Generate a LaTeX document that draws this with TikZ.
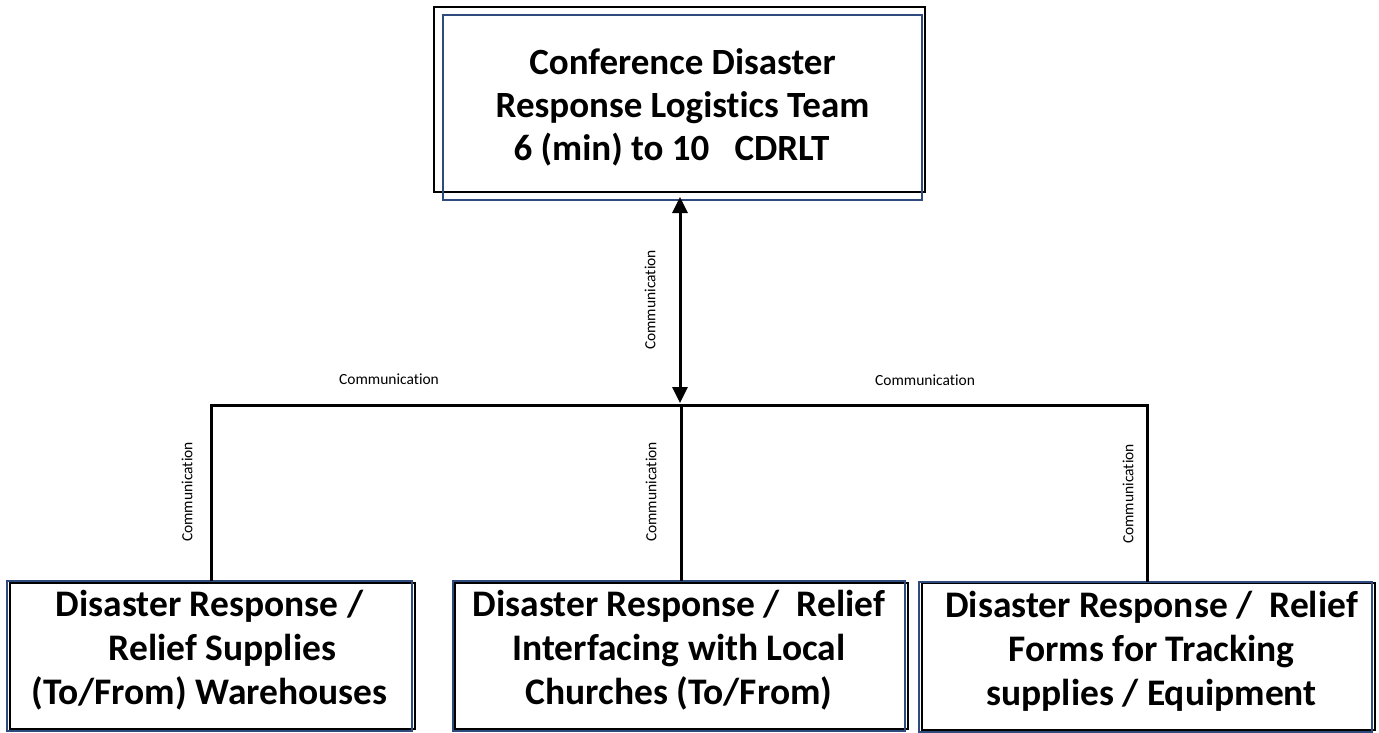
\documentclass[tikz,border=0pt]{standalone}
\usepackage{fontspec}
\setmainfont{Carlito}[Ligatures=NoCommon]
\usetikzlibrary{arrows.meta,calc}
\definecolor{boxblue}{RGB}{47,75,125}
\newcommand{\dropline}{\rule[-18pt]{0pt}{1pt}}
\begin{document}
\begin{tikzpicture}[x=1pt,y=-1pt,
  bluebox/.style={draw=boxblue,line width=2.4pt,inner sep=0pt,outer sep=0pt,align=center,
    font=\fontsize{37.5}{44}\selectfont\bfseries},
  topbox/.style={bluebox,font=\fontsize{37}{43}\selectfont\bfseries},
  blackbox/.style={draw=black,line width=2pt},
  conn/.style={draw=black,line width=3pt},
  lab/.style={font=\fontsize{15.5}{18}\selectfont,inner sep=0pt}]
\useasboundingbox (0,0) rectangle (1379,733);
% black back rectangles
\draw[blackbox] (434,7) rectangle (925,192);
\draw[blackbox] (10,583) rectangle (415,729);
\draw[blackbox] (455,583) rectangle (908,729);
\draw[blackbox] (922,583) rectangle (1375,730);
% blue boxes
\node[topbox,minimum width=479pt,minimum height=185pt] (top) at (682.5,107.5)
  {Conference Disaster\\Response Logistics Team\\6 (min) to 10\ \ \ CDRLT\hspace*{22pt}};
\node[bluebox,minimum width=405pt,minimum height=150pt] (b1) at (209.5,656)
  {Disaster Response /\\\hspace*{26pt}Relief Supplies\\(To/From) Warehouses\dropline};
\node[bluebox,minimum width=452pt,minimum height=150pt] (b2) at (679,656)
  {Disaster Response /\ \ Relief\\Interfacing with Local\\Churches (To/From)\dropline};
\node[bluebox,minimum width=453pt,minimum height=150pt] (b3) at (1145.5,657)
  {\hspace*{12pt}Disaster Response /\ \ Relief\\\hspace*{12pt}Forms for Tracking\\\hspace*{12pt}supplies / Equipment\dropline};
% junction coordinates
\coordinate (jL) at (211,405);
\coordinate (jA) at (680,405);
\coordinate (jM) at (681,405);
\coordinate (jR) at (1147,405);
% connectors
\draw[conn] (b1.north -| jL) -- (jL) -- (jR) -- (b3.north -| jR);
\draw[conn] (jM) -- (b2.north -| jM);
\draw[conn,{Triangle[length=16pt,width=15pt]}-{Triangle[length=16pt,width=15pt]}]
  ([yshift=3pt]top.south -| jA) -- ([yshift=2pt]jA);
% labels
\node[lab,rotate=90] (lA) at (650,300) {Communication};
\node[lab] (lH1) at (389,379) {Communication};
\node[lab] (lH2) at (925,380) {Communication};
\node[lab,rotate=90] (lV1) at (187,492) {Communication};
\node[lab,rotate=90] (lV2) at (651,492) {Communication};
\node[lab,rotate=90] (lV3) at (1128,494) {Communication};
\end{tikzpicture}
\end{document}
